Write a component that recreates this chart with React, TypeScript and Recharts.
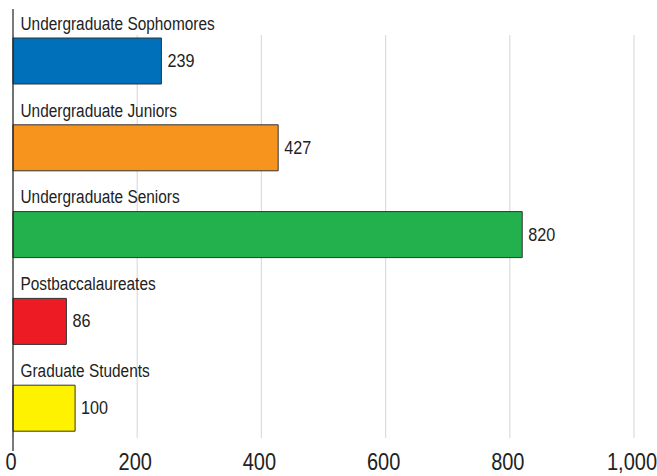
import React from 'react';
import { BarChart, Bar, Cell, XAxis, YAxis, CartesianGrid, LabelList, ReferenceLine } from 'recharts';

// Student counts by level

const categories = [
  'Undergraduate Sophomores',
  'Undergraduate Juniors',
  'Undergraduate Seniors',
  'Postbaccalaureates',
  'Graduate Students',
];
const counts = [239, 427, 820, 86, 100];
const barColors = ['#0070BA', '#F7941D', '#22B14C', '#ED1C24', '#FFF200'];
const xTicks = [0, 200, 400, 600, 800, 1000];

const FONT = '"Liberation Sans", Arial, sans-serif';
// the source text is a bit taller than it is wide
const STRETCH = 1.18;

const data = categories.map((name, i) => ({ name, count: counts[i] }));

const fmt = (v: number) => v.toLocaleString('en-US');

function CategoryLabel(props: any) {
  const { x, y, value } = props;
  return (
    <text
      transform={`translate(${x + 7.5},${y - 8.3}) scale(1,${STRETCH})`}
      fill="#222"
      fontSize={15.4}
      fontFamily={FONT}
    >
      {value}
    </text>
  );
}

function ValueLabel(props: any) {
  const { x, y, width, height, value } = props;
  return (
    <text
      transform={`translate(${x + width + 6},${y + height / 2 + 6}) scale(1,${STRETCH})`}
      fill="#222"
      fontSize={16.2}
      fontFamily={FONT}
    >
      {value}
    </text>
  );
}

function XTick(props: any) {
  const { x, y, payload } = props;
  return (
    <text
      transform={`translate(${x - 2},${y + 18}) scale(1,${STRETCH})`}
      textAnchor="middle"
      fill="#222"
      fontSize={20}
      fontFamily={FONT}
    >
      {fmt(payload.value)}
    </text>
  );
}

function GridLine(props: any) {
  const { x1, x2, y1, y2 } = props;
  return <line x1={x1} x2={x2} y1={y1 + 17} y2={y2 - 14} stroke="#dcdcdc" strokeWidth={1.2} />;
}

function AxisLine(props: any) {
  const { x1, x2, y1, y2 } = props;
  return <line x1={x1} x2={x2} y1={y1 - 1} y2={y2 - 9} stroke="#222" strokeWidth={1.2} />;
}

export default function App() {
  return (
    <div style={{ width: 657, height: 476, background: '#fff' }}>
      <style>{'body{margin:0}'}</style>
      <BarChart
        width={657}
        height={476}
        data={data}
        layout="vertical"
        margin={{ top: 18, right: 23, bottom: 0, left: 13 }}
      >
        <CartesianGrid horizontal={false} vertical={GridLine as any} />
        <XAxis
          type="number"
          domain={[0, 1000]}
          ticks={xTicks}
          axisLine={false}
          tickLine={false}
          tickSize={0}
          tickMargin={0}
          height={24}
          interval={0}
          tick={XTick}
        />
        <YAxis type="category" dataKey="name" hide width={0} />
        <ReferenceLine x={0} shape={AxisLine as any} />
        <Bar dataKey="count" barSize={46} stroke="#333" strokeWidth={1} isAnimationActive={false}>
          {data.map((d, i) => (
            <Cell key={d.name} fill={barColors[i]} />
          ))}
          <LabelList dataKey="name" content={CategoryLabel} />
          <LabelList dataKey="count" content={ValueLabel} />
        </Bar>
      </BarChart>
    </div>
  );
}
